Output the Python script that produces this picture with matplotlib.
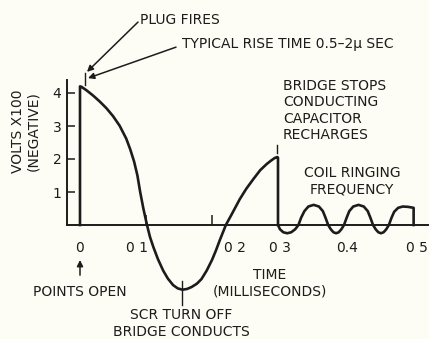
import matplotlib.pyplot as plt
import numpy as np

# primary voltage trace (time in ms, volts x100, negative)
trace_t = [0.000, 0.000, 0.002, 0.010, 0.020, 0.030, 0.040, 0.050, 0.060, 0.070,
           0.076, 0.082, 0.087, 0.091, 0.096, 0.1015, 0.106, 0.111, 0.118, 0.126,
           0.133, 0.141, 0.148, 0.155, 0.162, 0.169, 0.177, 0.184, 0.192, 0.200,
           0.206, 0.212, 0.217, 0.221, 0.230, 0.242, 0.252, 0.263, 0.273, 0.283,
           0.290, 0.295, 0.299, 0.300, 0.300]
trace_v = [0.00, 4.20, 4.19, 4.08, 3.92, 3.74, 3.54, 3.30, 3.01, 2.62,
           2.30, 1.92, 1.50, 1.02, 0.50, 0.00, -0.36, -0.66, -1.03, -1.38,
           -1.62, -1.82, -1.92, -1.96, -1.94, -1.88, -1.78, -1.64, -1.38, -1.06,
           -0.77, -0.45, -0.20, 0.00, 0.33, 0.78, 1.10, 1.40, 1.66, 1.85,
           1.96, 2.03, 2.06, 2.04, 0.00]

# coil ringing after the bridge stops conducting
ring_t = [0.300, 0.303, 0.308, 0.314, 0.320, 0.326, 0.331, 0.335, 0.340, 0.346,
          0.354, 0.362, 0.368, 0.372, 0.376, 0.380, 0.384, 0.388, 0.392, 0.396,
          0.400, 0.404, 0.408, 0.414, 0.422, 0.430, 0.436, 0.440, 0.444, 0.448,
          0.452, 0.456, 0.460, 0.464, 0.468, 0.472, 0.476, 0.482, 0.489, 0.497,
          0.5055, 0.5055]
ring_v = [0.00, -0.13, -0.22, -0.25, -0.22, -0.13, 0.00, 0.22, 0.42, 0.56,
          0.61, 0.56, 0.42, 0.22, 0.00, -0.13, -0.22, -0.25, -0.22, -0.13,
          0.00, 0.22, 0.42, 0.56, 0.61, 0.56, 0.42, 0.22, 0.00, -0.13,
          -0.22, -0.25, -0.22, -0.13, 0.00, 0.22, 0.40, 0.52, 0.56, 0.55,
          0.52, 0.00]

y_ticks = [1, 2, 3, 4]
y_labels = ['1', '2', '3', '4']
x_ticks = [0.1, 0.2]
x_label_pos = [0.0, 0.0864, 0.2348, 0.303, 0.4045, 0.5106]
x_label_text = ['0', '0 1', '0 2', '0 3', '0.4', '0 5']

ink = '#1c1c1c'
paper = '#fdfdf5'
plt.rcParams['font.family'] = ['DejaVu Sans']

fig = plt.figure(figsize=(4.29, 3.39), dpi=100, facecolor=paper)
ax = fig.add_axes([0, 0, 1, 1])
ax.set_facecolor(paper)
ax.set_xlim(-80 / 660, 349 / 660)
ax.set_ylim(-114 / 33, 225 / 33)

# axes drawn as bare lines through the origin
for side in ['top', 'right']:
    ax.spines[side].set_visible(False)
ax.spines['left'].set_position(('data', -0.0197))
ax.spines['left'].set_bounds(0, 4.39)
ax.spines['bottom'].set_position(('data', 0))
ax.spines['bottom'].set_bounds(-0.0197, 0.527)
for side in ['left', 'bottom']:
    ax.spines[side].set_linewidth(1.4)
    ax.spines[side].set_color(ink)

ax.set_yticks(y_ticks)
ax.set_yticklabels(y_labels)
ax.set_xticks(x_ticks)
ax.set_xticklabels([])
ax.tick_params(axis='y', direction='in', length=6, width=1.1, color=ink,
               labelsize=10, labelcolor=ink, pad=4)
ax.tick_params(axis='x', direction='in', length=7, width=1.1, color=ink)

ax.plot(trace_t, trace_v, color=ink, lw=1.9, solid_joinstyle='round')
ax.plot(ring_t, ring_v, color=ink, lw=1.9, solid_joinstyle='round')

fs = 10
ls = 1.22
for x, s in zip(x_label_pos, x_label_text):
    ax.text(x, -0.70, s, ha='center', va='center', fontsize=fs, color=ink)

ax.text(-0.094, 2.85, 'VOLTS X100', rotation=90, ha='center', va='center',
        fontsize=fs, color=ink)
ax.text(-0.0712, 2.85, '(NEGATIVE)', rotation=90, ha='center', va='center',
        fontsize=fs, color=ink)

# marker ticks on the trace
ax.plot([0.0076, 0.0076], [4.24, 4.60], color=ink, lw=1.0)
ax.plot([0.2985, 0.2985], [2.18, 2.42], color=ink, lw=1.0)
ax.plot([0.1545, 0.1545], [-1.70, -2.42], color=ink, lw=1.0)

arrow = dict(arrowstyle='-|>', mutation_scale=9, lw=1.1, color=ink,
             shrinkA=0, shrinkB=0)
ax.annotate('', xy=(0.0106, 4.64), xytext=(0.0879, 6.15), arrowprops=arrow)
ax.annotate('', xy=(0.0121, 4.45), xytext=(0.1455, 5.39), arrowprops=arrow)
ax.annotate('', xy=(0.0, -1.06), xytext=(0.0, -1.52), arrowprops=arrow)

ax.text(0.0909, 6.21, 'PLUG FIRES', ha='left', va='center', fontsize=fs, color=ink)
ax.text(0.1545, 5.48, 'TYPICAL RISE TIME 0.5\u20132\u03bc SEC', ha='left',
        va='center', fontsize=fs, color=ink)
ax.text(0.3076, 3.47, 'BRIDGE STOPS\nCONDUCTING\nCAPACITOR\nRECHARGES',
        ha='left', va='center', fontsize=fs, color=ink, linespacing=ls)
ax.text(0.412, 1.33, 'COIL RINGING\nFREQUENCY', ha='center', va='center',
        fontsize=fs, color=ink, linespacing=ls)
ax.text(0.0, -2.03, 'POINTS OPEN', ha='center', va='center', fontsize=fs, color=ink)
ax.text(0.288, -1.77, 'TIME\n(MILLISECONDS)', ha='center', va='center',
        fontsize=fs, color=ink, linespacing=ls)
ax.text(0.153, -2.98, 'SCR TURN OFF\nBRIDGE CONDUCTS', ha='center', va='center',
        fontsize=fs, color=ink, linespacing=ls)

fig.savefig('out.png', dpi=100, facecolor=paper)
